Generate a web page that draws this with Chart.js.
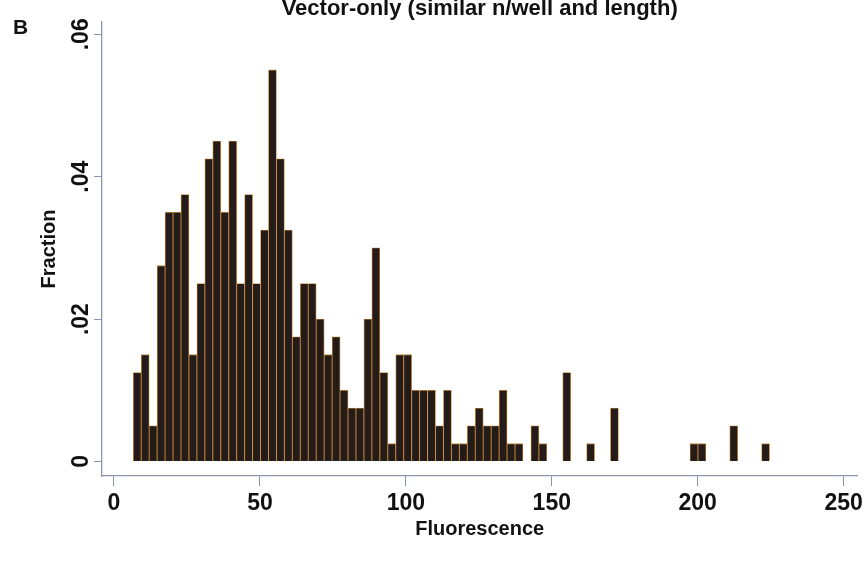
<!DOCTYPE html>
<html><head><meta charset="utf-8">
<script src="https://cdn.jsdelivr.net/npm/chart.js@4"></script>
<style>
html,body{margin:0;padding:0;background:#fff;}
#wrap{position:relative;width:867px;height:564px;overflow:hidden;}
#panel{position:absolute;left:13px;top:15px;font:bold 21px "Liberation Sans",Arial,sans-serif;color:#111;}
canvas{display:block;}
</style></head><body>
<div id="wrap"><canvas id="c" width="867" height="564"></canvas><div id="panel">B</div></div>
<script>
// Histogram bins (bin centres, Fluorescence units)
const binCenters = [
  7.97, 10.70, 13.42, 16.15, 18.87, 21.60, 24.32, 27.05, 29.77, 32.50,
  35.22, 37.95, 40.67, 43.40, 46.12, 48.85, 51.57, 54.30, 57.02, 59.75,
  62.47, 65.20, 67.92, 70.65, 73.37, 76.10, 78.82, 81.55, 84.27, 87.00,
  89.72, 92.45, 95.17, 97.90, 100.62, 103.35, 106.07, 108.80, 111.52, 114.25,
  116.97, 119.70, 122.42, 125.15, 127.87, 130.60, 133.32, 136.05, 138.77, 141.50,
  144.22, 146.95, 149.67, 152.40, 155.12, 157.85, 160.57, 163.30, 166.02, 168.75,
  171.47, 174.20, 176.92, 179.65, 182.37, 185.10, 187.82, 190.55, 193.27, 196.00,
  198.72, 201.45, 204.17, 206.90, 209.62, 212.35, 215.07, 217.80, 220.52, 223.25
];
// Fraction per bin
const fractions = [
  0.0125, 0.015, 0.005, 0.0275, 0.035, 0.035, 0.0375, 0.015, 0.025, 0.0425,
  0.045, 0.035, 0.045, 0.025, 0.0375, 0.025, 0.0325, 0.055, 0.0425, 0.0325,
  0.0175, 0.025, 0.025, 0.02, 0.015, 0.0175, 0.01, 0.0075, 0.0075, 0.02,
  0.03, 0.0125, 0.0025, 0.015, 0.015, 0.01, 0.01, 0.01, 0.005, 0.01,
  0.0025, 0.0025, 0.005, 0.0075, 0.005, 0.005, 0.01, 0.0025, 0.0025, 0,
  0.005, 0.0025, 0, 0, 0.0125, 0, 0, 0.0025, 0, 0,
  0.0075, 0, 0, 0, 0, 0, 0, 0, 0, 0,
  0.0025, 0.0025, 0, 0, 0, 0.005, 0, 0, 0, 0.0025
];
const xTickValues = [0, 50, 100, 150, 200, 250];
const yTickValues = [0, 0.02, 0.04, 0.06];
const yTickLabels = ['0', '.02', '.04', '.06'];
const chartTitle = 'Vector-only (similar n/well and length)';
const xTitle = 'Fluorescence';
const yTitle = 'Fraction';

const FONT = '"Liberation Sans", Arial, Helvetica, sans-serif';
const AX = '#8a95a8';
const INK = '#111111';

new Chart(document.getElementById('c'), {
  type: 'bar',
  data: {
    datasets: [{
      // empty bins are left undrawn
      data: binCenters.map((x, i) => ({ x: x, y: fractions[i] > 0 ? fractions[i] : null })),
      backgroundColor: '#251c19',
      borderColor: '#c48c3c',
      borderWidth: 0.8,
      borderSkipped: 'start',
      barPercentage: 1,
      categoryPercentage: 1
    }]
  },
  options: {
    responsive: false,
    animation: false,
    devicePixelRatio: 1,
    layout: { padding: 0 },
    plugins: {
      legend: { display: false },
      tooltip: { enabled: false },
      title: {
        display: true, text: chartTitle, fullSize: false, color: INK,
        font: { family: FONT, size: 22, weight: 'bold' },
        padding: { top: -4.2, bottom: -0.2 }
      }
    },
    scales: {
      x: {
        type: 'linear', min: -4.11, max: 254.7, offset: false,
        afterBuildTicks: s => { s.ticks = xTickValues.map(v => ({ value: v })); },
        afterFit: s => { s.height = 88; },
        grid: { drawOnChartArea: false, drawTicks: true, tickLength: 10, color: AX, lineWidth: 1, offset: false },
        border: { display: true, color: AX, width: 1.3 },
        ticks: {
          color: INK, font: { family: FONT, size: 23, weight: 'bold' },
          padding: 4, maxRotation: 0, autoSkip: false, callback: v => String(v)
        },
        title: {
          display: true, text: xTitle, color: INK,
          font: { family: FONT, size: 20, weight: 'bold' },
          padding: { top: 0, bottom: 23 }
        }
      },
      y: {
        min: -0.00204, max: 0.06173,
        afterBuildTicks: s => { s.ticks = yTickValues.map(v => ({ value: v })); },
        afterFit: s => { s.width = 102; },
        grid: { drawOnChartArea: false, drawTicks: true, tickLength: 8, color: AX, lineWidth: 1 },
        border: { display: true, color: AX, width: 1.3 },
        ticks: {
          color: INK, font: { family: FONT, size: 23, weight: 'bold' },
          minRotation: 90, maxRotation: 90, crossAlign: 'center', padding: -4,
          autoSkip: false, callback: (v, i) => yTickLabels[i]
        },
        title: {
          display: true, text: yTitle, color: INK,
          font: { family: FONT, size: 20, weight: 'bold' },
          padding: { top: 37, bottom: 0 }
        }
      }
    }
  }
});
</script>
</body></html>
